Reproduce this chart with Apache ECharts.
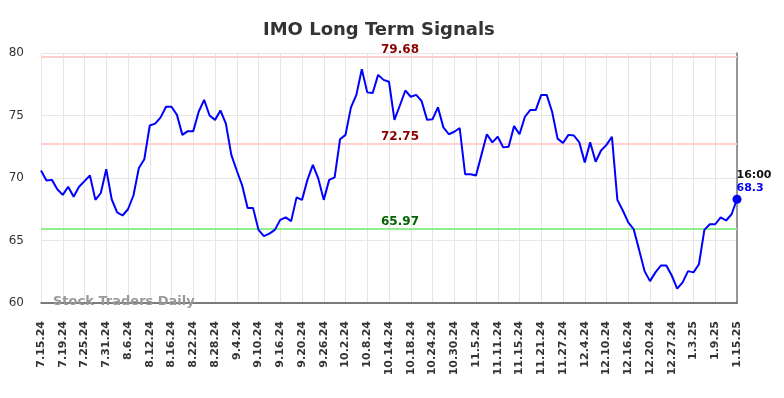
<!DOCTYPE html>
<html>
<head>
<meta charset="utf-8">
<title>IMO Long Term Signals</title>
<script src="https://cdn.jsdelivr.net/npm/echarts@6/dist/echarts.min.js"></script>
<style>
  html, body { margin: 0; padding: 0; background: #fff; }
  #chart { width: 784px; height: 398px; }
</style>
</head>
<body>
<div id="chart"></div>
<script>
// trading days shown on the x axis
const dates = [
  '7.15.24','7.16.24','7.17.24','7.18.24','7.19.24','7.22.24','7.23.24','7.24.24','7.25.24','7.26.24','7.29.24','7.30.24','7.31.24',
  '8.1.24','8.2.24','8.5.24','8.6.24','8.7.24','8.8.24','8.9.24','8.12.24','8.13.24','8.14.24','8.15.24','8.16.24','8.19.24','8.20.24',
  '8.21.24','8.22.24','8.23.24','8.26.24','8.27.24','8.28.24','8.29.24','8.30.24',
  '9.3.24','9.4.24','9.5.24','9.6.24','9.9.24','9.10.24','9.11.24','9.12.24','9.13.24','9.16.24','9.17.24','9.18.24','9.19.24','9.20.24',
  '9.23.24','9.24.24','9.25.24','9.26.24','9.27.24','9.30.24',
  '10.1.24','10.2.24','10.3.24','10.4.24','10.7.24','10.8.24','10.9.24','10.10.24','10.11.24','10.14.24','10.15.24','10.16.24','10.17.24',
  '10.18.24','10.21.24','10.22.24','10.23.24','10.24.24','10.25.24','10.28.24','10.29.24','10.30.24','10.31.24',
  '11.1.24','11.4.24','11.5.24','11.6.24','11.7.24','11.8.24','11.11.24','11.12.24','11.13.24','11.14.24','11.15.24','11.18.24','11.19.24',
  '11.20.24','11.21.24','11.22.24','11.25.24','11.26.24','11.27.24','11.29.24',
  '12.2.24','12.3.24','12.4.24','12.5.24','12.6.24','12.9.24','12.10.24','12.11.24','12.12.24','12.13.24','12.16.24','12.17.24','12.18.24',
  '12.19.24','12.20.24','12.23.24','12.24.24','12.26.24','12.27.24','12.30.24','12.31.24',
  '1.2.25','1.3.25','1.6.25','1.7.25','1.8.25','1.9.25','1.10.25','1.13.25','1.14.25','1.15.25'
];

const prices = [
  70.6, 69.8, 69.85, 69.1, 68.65, 69.3, 68.5, 69.3, 69.75, 70.2, 68.25, 68.8, 70.7,
  68.3, 67.25, 67.0, 67.5, 68.6, 70.8, 71.5, 74.2, 74.35, 74.85, 75.7, 75.7, 75.05, 73.45,
  73.75, 73.75, 75.3, 76.25, 75.0, 74.65, 75.4, 74.35,
  71.85, 70.6, 69.4, 67.6, 67.6, 65.85, 65.35, 65.55, 65.85, 66.65, 66.85, 66.55, 68.45, 68.25,
  69.85, 71.05, 69.95, 68.25, 69.85, 70.05,
  73.1, 73.45, 75.65, 76.65, 78.7, 76.85, 76.8, 78.25, 77.85, 77.7, 74.65, 75.8, 77.0,
  76.5, 76.65, 76.15, 74.65, 74.7, 75.65, 74.05, 73.5, 73.7, 74.0,
  70.3, 70.3, 70.2, 71.85, 73.5, 72.85, 73.3, 72.45, 72.5, 74.15, 73.5, 74.9, 75.45,
  75.45, 76.65, 76.65, 75.3, 73.15, 72.8, 73.45,
  73.4, 72.85, 71.25, 72.85, 71.3, 72.2, 72.65, 73.3, 68.25, 67.4, 66.45, 65.9, 64.25,
  62.55, 61.75, 62.45, 63.0, 63.0, 62.2, 61.15, 61.65,
  62.55, 62.45, 63.1, 65.85, 66.3, 66.3, 66.85, 66.6, 67.1, 68.3
];

const signalLevels = [79.68, 72.75, 65.97];
const signalColors = ['#ffcfcf', '#ffcfcf', '#90ee90'];
const signalTextColors = ['#8b0000', '#8b0000', '#006400'];
const lastTime = '16:00';

const chartDom = document.getElementById('chart');
const chart = echarts.init(chartDom);

const lastIdx = prices.length - 1;
const lineData = prices.map((v, i) => {
  if (i !== lastIdx) return v;
  return {
    value: v,
    symbol: 'circle',
    symbolSize: 9,
    label: {
      show: true,
      position: [4, -26],
      align: 'left',
      verticalAlign: 'top',
      formatter: '{t|' + lastTime + '}\n{v|' + v + '}',
      rich: {
        t: { fontFamily: 'DejaVu Sans', fontWeight: 'bold', fontSize: 11, color: '#111', lineHeight: 13 },
        v: { fontFamily: 'DejaVu Sans', fontWeight: 'bold', fontSize: 11, color: '#0000ff', lineHeight: 13 }
      }
    }
  };
});

const markLines = signalLevels.map((lvl, i) => ({
  yAxis: lvl,
  lineStyle: { color: signalColors[i], width: 2, type: 'solid' },
  label: {
    show: true,
    position: 'middle',
    distance: 1,
    formatter: lvl.toFixed(2),
    color: signalTextColors[i],
    fontFamily: 'DejaVu Sans',
    fontWeight: 'bold',
    fontSize: 12,
    offset: [11, 0]
  }
}));

const option = {
  animation: false,
  textStyle: { fontFamily: 'DejaVu Sans' },
  title: {
    text: 'IMO Long Term Signals',
    left: 258,
    top: 16,
    textStyle: { fontFamily: 'DejaVu Sans', fontSize: 18, fontWeight: 'bold', color: '#333' }
  },
  grid: { left: 41, right: 47, top: 53, bottom: 95 },
  xAxis: {
    type: 'category',
    boundaryGap: false,
    data: dates,
    axisLine: { lineStyle: { color: '#555', width: 1.5 } },
    axisTick: { show: false },
    axisLabel: {
      interval: 3,
      rotate: 90,
      margin: 18,
      fontFamily: 'DejaVu Sans',
      fontSize: 11,
      fontWeight: 'bold',
      color: '#333'
    },
    splitLine: { show: true, interval: 3, lineStyle: { color: '#e6e6e6', width: 1 } }
  },
  yAxis: [
    {
      type: 'value',
      min: 60,
      max: 80,
      interval: 5,
      axisLine: { show: false },
      axisTick: { show: false },
      axisLabel: { margin: 17, fontFamily: 'DejaVu Sans', fontSize: 12, color: '#333' },
      splitLine: { lineStyle: { color: '#e6e6e6', width: 1 } }
    },
    {
      type: 'value',
      position: 'right',
      min: 60,
      max: 80,
      axisLine: { show: true, lineStyle: { color: '#777', width: 1.5 } },
      axisTick: { show: false },
      axisLabel: { show: false },
      splitLine: { show: false }
    }
  ],
  graphic: [
    {
      type: 'text',
      left: 53,
      top: 295,
      z: 100,
      style: {
        text: 'Stock Traders Daily',
        fill: '#999',
        font: 'bold 13px "DejaVu Sans"'
      }
    }
  ],
  series: [
    {
      name: 'IMO',
      type: 'line',
      data: lineData,
      symbol: 'none',
      showSymbol: true,
      lineStyle: { color: '#0000ff', width: 2 },
      itemStyle: { color: '#0000ff' },
      z: 5,
      markLine: {
        silent: true,
        symbol: 'none',
        data: markLines
      }
    }
  ]
};

option && chart.setOption(option);
</script>
</body>
</html>
